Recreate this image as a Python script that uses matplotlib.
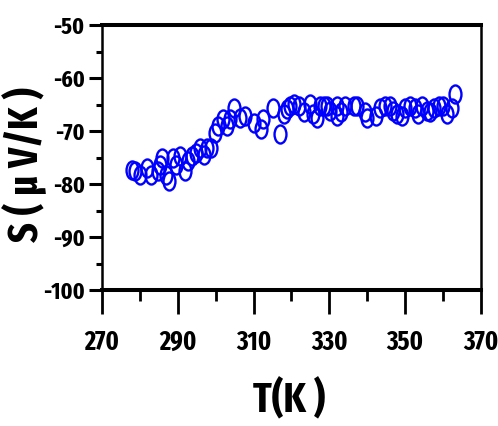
import numpy as np
import matplotlib
matplotlib.use("Agg")
import matplotlib.pyplot as plt
from matplotlib.path import Path
from matplotlib.transforms import Affine2D
from matplotlib.ticker import MultipleLocator

# temperature (K) and Seebeck coefficient (uV/K)
T = [277.8, 278.7, 279.9, 281.8, 282.9, 284.9, 285.8, 285.3, 286.9, 287.8,
     288.8, 289.5, 290.6, 291.9, 292.6, 293.7, 294.8, 295.9, 296.8, 297.8,
     298.8, 299.8, 300.7, 301.9, 302.9, 303.8, 304.9, 306.3, 307.8, 310.0,
     312.0, 312.6, 315.1, 317.0, 317.9, 318.8, 319.6, 320.7, 322.1, 323.2,
     324.8, 325.8, 326.7, 327.6, 328.5, 329.5, 330.2, 332.0, 332.0, 333.0,
     334.2, 336.4, 337.3, 339.5, 339.9, 342.4, 343.4, 344.7, 346.1, 346.9,
     347.8, 349.1, 350.0, 351.3, 352.7, 353.5, 354.4, 355.7, 356.6, 357.5,
     358.8, 360.1, 361.0, 362.3, 363.2]
S = [-77.3, -77.6, -78.3, -77.0, -78.3, -77.6, -75.1, -76.4, -78.3, -79.5,
     -75.1, -76.4, -74.8, -77.6, -75.7, -74.8, -74.1, -73.2, -74.5, -73.2,
     -73.2, -70.3, -69.1, -67.8, -69.1, -67.8, -65.6, -67.5, -67.2, -68.4,
     -69.7, -67.8, -65.6, -70.6, -66.8, -65.9, -65.2, -64.9, -65.2, -66.5,
     -64.9, -66.8, -67.5, -65.2, -65.2, -65.2, -66.2, -65.2, -67.2, -66.5,
     -65.2, -65.2, -65.2, -66.5, -67.5, -67.2, -65.6, -65.2, -65.2, -66.2,
     -66.8, -67.2, -65.6, -65.2, -65.6, -66.8, -65.2, -66.2, -66.5, -65.6,
     -65.2, -65.2, -66.8, -65.6, -63.0]
xticks = [270, 290, 310, 330, 350, 370]
yticks = [-100, -90, -80, -70, -60, -50]

plt.rcParams['font.family'] = ['Fira Sans Extra Condensed', 'Roboto Condensed', 'DejaVu Sans']
plt.rcParams['font.weight'] = 'bold'
plt.rcParams['axes.unicode_minus'] = False

fig = plt.figure(figsize=(4.98, 4.26), dpi=100)
ax = fig.add_axes([0.2048, 0.3192, 0.761, 0.6221])

# tall ellipse marker like the original
ellipse = Path.unit_circle().transformed(Affine2D().scale(0.66, 1.0))
ax.plot(T, S, linestyle='none', marker=ellipse, markersize=13,
        markerfacecolor='none', markeredgecolor='#0000ff', markeredgewidth=1.7)

ax.set_xlim(270, 370)
ax.set_ylim(-100, -50)
ax.set_xticks(xticks)
ax.set_yticks(yticks)
ax.xaxis.set_minor_locator(MultipleLocator(10))
ax.yaxis.set_minor_locator(MultipleLocator(5))

for side in ['top', 'bottom']:
    ax.spines[side].set_linewidth(2.9)
for side in ['left', 'right']:
    ax.spines[side].set_linewidth(1.8)

ax.tick_params(axis='x', which='major', length=17, width=2.0, pad=11, labelsize=19)
ax.tick_params(axis='x', which='minor', length=8, width=2.0)
ax.tick_params(axis='y', which='major', length=9.5, width=2.2, pad=3, labelsize=17)
ax.tick_params(axis='y', which='minor', length=4, width=2.2)

ax.set_xlabel('T(K )', fontsize=30, fontweight='bold')
ax.set_ylabel('S ( \u03bc V/K )', fontsize=30, fontweight='bold')
ax.xaxis.set_label_coords(0.493, -0.335)
ax.yaxis.set_label_coords(-0.145, 0.472)

fig.savefig('out.png', dpi=100)
